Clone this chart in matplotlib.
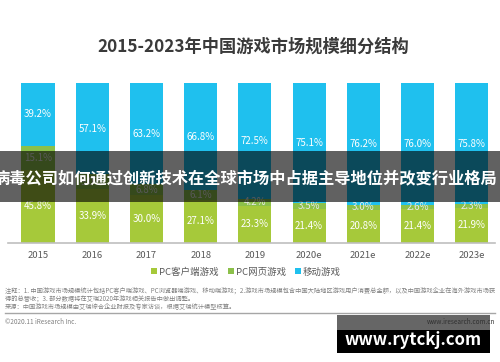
import matplotlib.pyplot as plt
import numpy as np
from matplotlib.patches import Rectangle

plt.rcParams['font.family'] = ['Noto Sans CJK SC', 'DejaVu Sans']

# =========================
# 数据
# =========================
years = ["2015", "2016", "2017", "2018", "2019", "2020e", "2021e", "2022e", "2023e"]
pc_client = [45.8, 33.9, 30.0, 27.1, 23.3, 21.4, 20.8, 21.4, 21.9]
pc_web = [15.1, 9.0, 6.8, 6.1, 4.2, 3.5, 3.0, 2.6, 2.3]
mobile = [39.2, 57.1, 63.2, 66.8, 72.5, 75.1, 76.2, 76.0, 75.8]
series_names = ["PC客户端游戏", "PC网页游戏", "移动游戏"]

colors = ["#a6c93a", "#8cc04a", "#1fc0ee"]

W, H = 500, 362
fig = plt.figure(figsize=(W / 100, H / 100), dpi=100)
fig.patch.set_facecolor("white")


def fx(px):
    return px / W


def fy(py):
    return 1 - py / H


# 主图区域（像素坐标换算）
ax = fig.add_axes([fx(8), fy(243), fx(487), 160 / H])
x = np.arange(len(years))
width = 0.61

pc_client = np.array(pc_client)
pc_web = np.array(pc_web)
mobile = np.array(mobile)

b1 = ax.bar(x, pc_client, width, color=colors[0], label=series_names[0])
b2 = ax.bar(x, pc_web, width, bottom=pc_client, color=colors[1], label=series_names[1])
b3 = ax.bar(x, mobile, width, bottom=pc_client + pc_web, color=colors[2], label=series_names[2])

for i in range(len(years)):
    ax.text(x[i], pc_client[i] / 2, f"{pc_client[i]:.1f}%", ha="center", va="center",
            color="white", fontsize=7)
    ax.text(x[i], pc_client[i] + pc_web[i] / 2, f"{pc_web[i]:.1f}%", ha="center", va="center",
            color="#e8e8e8", fontsize=7)
    ax.text(x[i], pc_client[i] + pc_web[i] + mobile[i] / 2, f"{mobile[i]:.1f}%", ha="center",
            va="center", color="white", fontsize=7)

ax.set_xlim(-0.553, 8.43)
ax.set_ylim(0, 100.1)
ax.set_xticks(x)
ax.set_xticklabels(years, fontsize=6.8, color="#595959")
ax.tick_params(axis="x", length=0, pad=6)
ax.set_yticks([])
for s in ["top", "right", "left"]:
    ax.spines[s].set_visible(False)
ax.spines["bottom"].set_color("#bfbfbf")
ax.spines["bottom"].set_linewidth(1.2)

ax.legend(handles=[b1, b2, b3], loc="center", bbox_to_anchor=(fx(246), fy(272)),
          bbox_transform=fig.transFigure, ncol=3, frameon=False, fontsize=6.8,
          handlelength=0.6, handleheight=0.6, handletextpad=0.2, columnspacing=1.0,
          labelcolor="#595959")

# 标题
fig.text(fx(253), fy(47), "2015-2023年中国游戏市场规模细分结构", ha="center", va="center",
         fontsize=12.4, fontweight="bold", color="#3a3a3a")

# 注释
note_lines = [
    "注释：1. 中国游戏市场规模统计包括PC客户端游戏、PC浏览器端游戏、移动端游戏；2.游戏市场规模包含中国大陆地区游戏用户消费总金额，以及中国游戏企业在海外游戏市场获",
    "得的总营收；3. 部分数据将在艾瑞2020年游戏相关报告中做出调整。",
    "来源：中国游戏市场规模由艾瑞综合企业财报及专家访谈，根据艾瑞统计模型核算。",
]
for k, line in enumerate(note_lines):
    fig.text(fx(5), fy(292 + k * 7.3), line, ha="left", va="center", fontsize=4.5, color="#808080")

fig.add_artist(plt.Line2D([fx(5), fx(495)], [fy(313), fy(313)], color="#a6a6a6", lw=1.0))
fig.text(fx(5), fy(322), "©2020.11 iResearch Inc.", ha="left", va="center", fontsize=4.6, color="#808080")

# 水印框
fig.add_artist(Rectangle((fx(337), fy(330)), fx(153), 15 / H, transform=fig.transFigure,
                         facecolor="black", alpha=0.6, edgecolor="none"))
fig.add_artist(Rectangle((fx(337), fy(353)), fx(153), 23 / H, transform=fig.transFigure,
                         facecolor="black", edgecolor="none"))
fig.text(fx(495), fy(322), "www.iresearch.com.cn", ha="right", va="center", fontsize=4.6, color="#303030")
fig.text(fx(413), fy(340), "www.rytckj.com", ha="center", va="center", fontsize=12,
         fontweight="bold", color="white")

# 横幅
fig.add_artist(Rectangle((0, fy(202)), 1, 51 / H, transform=fig.transFigure,
                         facecolor="black", alpha=0.62, edgecolor="none"))
fig.text(fx(245), fy(178), "病毒公司如何通过创新技术在全球市场中占据主导地位并改变行业格局",
         ha="center", va="center", fontsize=11.7, fontweight="bold", color="white")

fig.savefig("out.png", dpi=100)
plt.close(fig)
